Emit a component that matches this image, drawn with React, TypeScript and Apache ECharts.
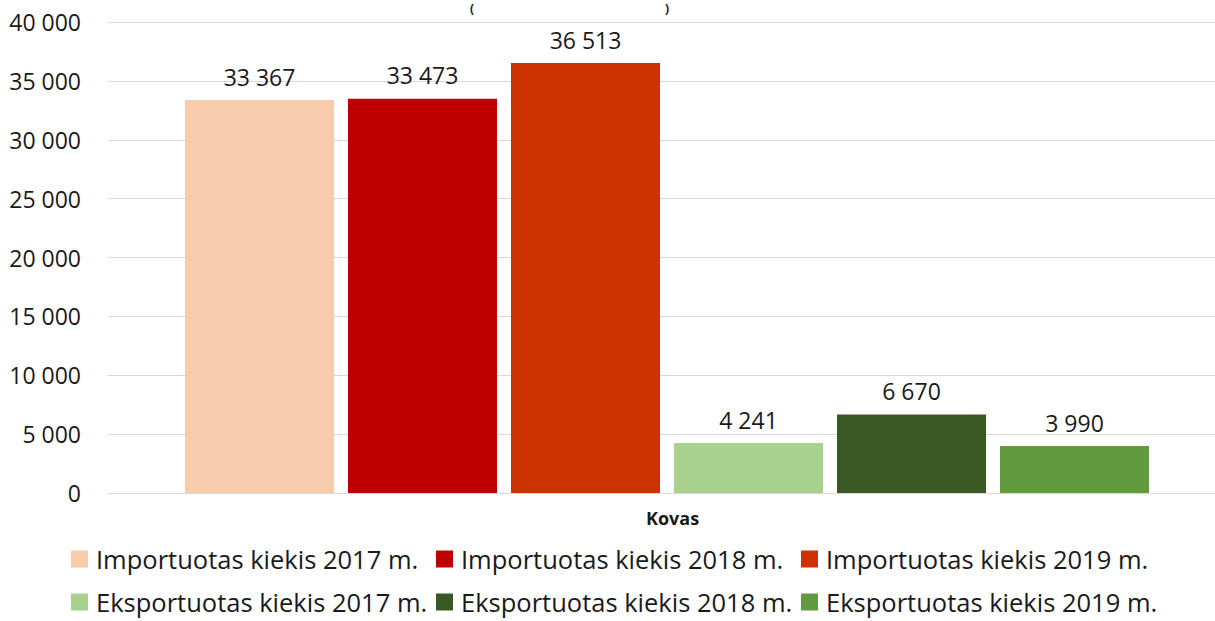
import React, { useEffect, useRef } from "react";
import * as echarts from "echarts";

const categories = ["Kovas"];
const seriesNames = [
  "Importuotas kiekis 2017 m.",
  "Importuotas kiekis 2018 m.",
  "Importuotas kiekis 2019 m.",
  "Eksportuotas kiekis 2017 m.",
  "Eksportuotas kiekis 2018 m.",
  "Eksportuotas kiekis 2019 m.",
];
const seriesValues = [[33367], [33473], [36513], [4241], [6670], [3990]];
const seriesColors = ["#F8CBAD", "#C00000", "#CC3300", "#A9D18E", "#3A5824", "#629A3F"];
const yTicks = { min: 0, max: 40000, interval: 5000 };

const fmt = (v: number) => String(Math.round(v)).replace(/\B(?=(\d{3})+(?!\d))/g, " ");
const FONT = "'Open Sans', 'Noto Sans', sans-serif";

export default function App() {
  const ref = useRef<HTMLDivElement>(null);
  useEffect(() => {
    if (!ref.current) return;
    const chart = echarts.init(ref.current, undefined, { renderer: "svg" });
    const legendText = {
      fontSize: 25.5,
      lineHeight: 28,
      color: "#1a1a1a",
      fontFamily: FONT,
      padding: [0, 0, 0, 3],
    };
    const colLeft = [71, 436, 801];
    const rowTop = [545, 588];
    const legends = seriesNames.map((name, i) => ({
      data: [name],
      left: colLeft[i % 3],
      top: rowTop[Math.floor(i / 3)],
      padding: 0,
      itemWidth: 17,
      itemHeight: 17,
      icon: "rect",
      textStyle: legendText,
    }));
    chart.setOption({
      animation: false,
      backgroundColor: "#ffffff",
      textStyle: { fontFamily: FONT },
      grid: { left: 108, right: 0, top: 22, bottom: 128, containLabel: false },
      xAxis: {
        type: "category",
        data: categories,
        axisLine: { show: true, lineStyle: { color: "#D9D9D9", width: 1 } },
        axisTick: { show: false },
        axisLabel: { show: false },
      },
      yAxis: {
        type: "value",
        min: yTicks.min,
        max: yTicks.max,
        interval: yTicks.interval,
        axisLine: { show: false },
        axisTick: { show: false },
        splitLine: { lineStyle: { color: "#D9D9D9", width: 1 } },
        axisLabel: {
          margin: 27,
          fontSize: 23,
          color: "#1a1a1a",
          fontFamily: FONT,
          formatter: (v: number) => fmt(v),
        },
      },
      legend: legends,
      graphic: [
        {
          type: "text",
          left: 646,
          top: 509,
          style: { text: categories[0], fontSize: 18, fontWeight: "bold", fill: "#1a1a1a", fontFamily: FONT },
        },
        {
          type: "text",
          left: 470,
          top: 2,
          style: { text: "(", fontSize: 12, fontWeight: "bold", fill: "#1a1a1a", fontFamily: FONT },
        },
        {
          type: "text",
          left: 665,
          top: 2,
          style: { text: ")", fontSize: 12, fontWeight: "bold", fill: "#1a1a1a", fontFamily: FONT },
        },
      ],
      series: seriesNames.map((name, i) => ({
        type: "bar",
        name,
        data: seriesValues[i],
        barWidth: 149,
        barGap: "9.4%",
        itemStyle: { color: seriesColors[i] },
        label: {
          show: true,
          position: "top",
          distance: 12,
          fontSize: 23,
          color: "#1a1a1a",
          fontFamily: FONT,
          formatter: (p: any) => fmt(p.value),
        },
      })),
    });
    return () => chart.dispose();
  }, []);
  return (
    <div style={{ position: "fixed", left: 0, top: 0, width: 1215, height: 621, overflow: "hidden", background: "#fff" }}>
      <div ref={ref} style={{ width: 1226, height: 621 }} />
    </div>
  );
}
